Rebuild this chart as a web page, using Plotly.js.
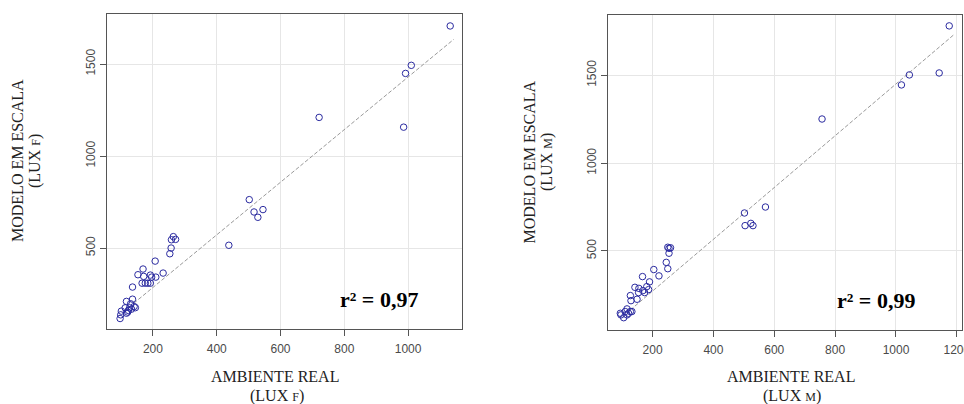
<!DOCTYPE html>
<html>
<head>
<meta charset="utf-8">
<script src="https://cdn.plot.ly/plotly-3.0.1.min.js"></script>
<style>
  html, body { margin: 0; padding: 0; background: #ffffff; }
  #chart { width: 964px; height: 404px; }
</style>
</head>
<body>
<div id="chart"></div>
<script>
// ---- Data: left panel (LUX F) ----
const realF = [1132, 1010, 992, 986, 721, 502, 517, 545, 529, 438,
               264, 258, 271, 257, 253, 207, 232, 169, 153, 171,
               192, 196, 209, 166, 176, 184, 192, 136, 136, 117,
               130, 141, 133, 123, 117, 101, 99, 97, 127, 113,
               145, 121];
const modelF = [1707, 1493, 1449, 1157, 1210, 763, 696, 709, 667, 515,
                562, 545, 547, 500, 469, 429, 364, 386, 355, 346,
                353, 342, 342, 309, 309, 309, 309, 288, 222, 210,
                197, 182, 168, 161, 146, 157, 137, 117, 175, 175,
                176, 152];
const fitFx = [140, 1143];
const fitFy = [200, 1634];

// ---- Data: right panel (LUX M) ----
const realM = [1175, 1044, 1142, 1018, 757, 571, 502, 504, 523, 530,
               250, 259, 254, 254, 245, 250, 204, 221, 167, 190,
               142, 155, 181, 168, 154, 174, 187, 127, 129, 149,
               116, 110, 127, 132, 94, 96, 105, 116, 121];
const modelM = [1781, 1502, 1513, 1445, 1251, 750, 716, 644, 657, 644,
                521, 518, 515, 487, 435, 399, 394, 358, 354, 324,
                293, 287, 297, 274, 263, 263, 280, 246, 217, 225,
                170, 155, 155, 155, 145, 136, 120, 136, 145];
const fitMx = [127, 1189];
const fitMy = [164, 1729];

// ---- Tick labels & texts ----
const xTicksF = [200, 400, 600, 800, 1000];
const xTicksM = [200, 400, 600, 800, 1000, 1200];
const yTicks = [500, 1000, 1500];
const r2Labels = ["r\u00B2 = 0,97", "r\u00B2 = 0,99"];
const xTitle = "AMBIENTE REAL";
const yTitle = "MODELO EM ESCALA";
const unitF = '(LUX <span style="font-size:12px">F</span>)';
const unitM = '(LUX <span style="font-size:12px">M</span>)';

const W = 964, H = 404;
const px = v => v / W;
const py = v => (H - v) / H;

const markerStyle = { symbol: 'circle-open', size: 6.5, color: '#2b2ba0', line: { width: 1, color: '#2b2ba0' } };
const lineStyle = { color: '#9a9a9a', width: 1, dash: '4px,2px' };

const traces = [
  { x: fitFx, y: fitFy, mode: 'lines', line: lineStyle, xaxis: 'x', yaxis: 'y', hoverinfo: 'skip' },
  { x: realF, y: modelF, mode: 'markers', marker: markerStyle, xaxis: 'x', yaxis: 'y' },
  { x: fitMx, y: fitMy, mode: 'lines', line: lineStyle, xaxis: 'x2', yaxis: 'y2', hoverinfo: 'skip' },
  { x: realM, y: modelM, mode: 'markers', marker: markerStyle, xaxis: 'x2', yaxis: 'y2' }
];

const tickFont = { family: 'Liberation Sans, Arial, sans-serif', size: 12, color: '#4a4a4a' };
const axisBase = {
  showline: true, mirror: true, linecolor: '#555', linewidth: 1,
  ticks: 'outside', ticklen: 6, tickcolor: '#555', tickwidth: 1,
  gridcolor: '#e6e6e6', gridwidth: 1, zeroline: false,
  tickfont: tickFont, fixedrange: true, ticklabeloverflow: 'allow'
};

const serif = 'Liberation Serif, Times New Roman, serif';
const titleFont = { family: serif, size: 16, color: '#222' };
const r2Font = { family: serif, size: 22, color: '#000', weight: 'bold' };

function ann(text, x, y, font, angle) {
  return { text: text, x: px(x), y: py(y), xref: 'paper', yref: 'paper',
           xanchor: 'center', yanchor: 'middle', showarrow: false,
           font: font, textangle: angle || 0 };
}

const layout = {
  width: W, height: H,
  margin: { l: 0, r: 0, t: 0, b: 0 },
  paper_bgcolor: '#ffffff', plot_bgcolor: '#ffffff',
  showlegend: false,
  xaxis: Object.assign({}, axisBase, { domain: [px(107), px(462)], range: [56, 1169], tickvals: xTicksF, ticktext: xTicksF.map(String), anchor: 'y', ticklabelstandoff: 3 }),
  yaxis: Object.assign({}, axisBase, { domain: [py(329), py(14)], range: [60, 1772], tickvals: yTicks, ticktext: yTicks.map(String), tickangle: -90, anchor: 'x' }),
  xaxis2: Object.assign({}, axisBase, { domain: [px(608), px(962)], range: [53.5, 1217], tickvals: xTicksM, ticktext: xTicksM.map(String), anchor: 'y2', ticklabelstandoff: 3 }),
  yaxis2: Object.assign({}, axisBase, { domain: [py(330), py(15)], range: [50, 1843], tickvals: yTicks, ticktext: yTicks.map(String), tickangle: -90, anchor: 'x2' }),
  annotations: [
    ann(xTitle, 275, 376.5, titleFont),
    ann(unitF, 277, 395.5, titleFont),
    ann(xTitle, 790.5, 376.5, titleFont),
    ann(unitM, 792, 395.5, titleFont),
    ann(yTitle, 17, 161, titleFont, -90),
    ann(unitF, 35, 161, titleFont, -90),
    ann(yTitle, 528.5, 162, titleFont, -90),
    ann(unitM, 547, 162, titleFont, -90),
    ann(r2Labels[0], 379, 299, r2Font),
    ann(r2Labels[1], 876, 300, r2Font)
  ]
};

Plotly.newPlot('chart', traces, layout, { displayModeBar: false, staticPlot: true });
</script>
</body>
</html>
